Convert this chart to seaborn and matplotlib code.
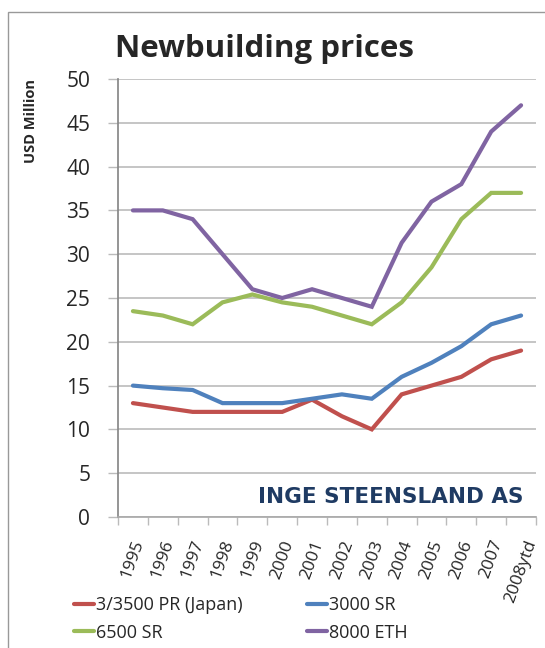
import numpy as np
import pandas as pd
import matplotlib
matplotlib.use("Agg")
import matplotlib.pyplot as plt
import seaborn as sns
from matplotlib.patches import Rectangle
from matplotlib.lines import Line2D

# values (USD million)
years = ["1995", "1996", "1997", "1998", "1999", "2000", "2001",
         "2002", "2003", "2004", "2005", "2006", "2007", "2008ytd"]
pr_japan = [13, 12.5, 12, 12, 12, 12, 13.4, 11.5, 10, 14, 15, 16, 18, 19]
sr_3000 = [15, 14.7, 14.5, 13, 13, 13, 13.5, 14, 13.5, 16, 17.6, 19.5, 22, 23]
sr_6500 = [23.5, 23, 22, 24.5, 25.4, 24.5, 24, 23, 22, 24.5, 28.5, 34, 37, 37]
eth_8000 = [35, 35, 34, 30, 26, 25, 26, 25, 24, 31.3, 36, 38, 44, 47]

series_names = ["3/3500 PR (Japan)", "3000 SR", "6500 SR", "8000 ETH"]
colors = ["#C0504D", "#4F81BD", "#9BBB59", "#8064A2"]

rows = []
for name, vals in zip(series_names, [pr_japan, sr_3000, sr_6500, eth_8000]):
    for i, v in enumerate(vals):
        rows.append({"idx": i, "price": v, "series": name})
df = pd.DataFrame(rows)

sns.set_theme(style="white")
plt.rcParams['font.family'] = ['Open Sans', 'DejaVu Sans']

fig = plt.figure(figsize=(5.45, 6.48), dpi=100)
ax = fig.add_axes([118 / 545, 1 - 517 / 648, 418 / 545, 438 / 648])

sns.lineplot(data=df, x="idx", y="price", hue="series", hue_order=series_names,
             palette=colors, linewidth=3, legend=False, ax=ax)
for ln in ax.lines:
    ln.set_solid_joinstyle("miter")

ax.set_xlim(-0.5, len(years) - 0.5)
ax.set_ylim(0, 50)
ax.set_yticks(np.arange(0, 51, 5))
ax.tick_params(axis="y", labelsize=15, length=7, width=1, color="#BBBBBB",
               direction="out", left=True, pad=13)
ax.yaxis.grid(True, color="#BBBBBB", linewidth=1.2)
ax.set_axisbelow(True)

ax.set_xticks(range(len(years)))
ax.set_xticklabels(years, rotation=70, fontsize=12.5, ha="center")
ax.set_xticks(np.arange(-0.5, len(years), 1), minor=True)
ax.tick_params(axis="x", which="major", length=0, pad=15)
ax.tick_params(axis="x", which="minor", length=6, width=1, color="#BBBBBB",
               direction="out", bottom=True)

for s in ["top", "right"]:
    ax.spines[s].set_visible(False)
ax.spines["left"].set_color("#888888")
ax.spines["bottom"].set_color("#AAAAAA")
ax.set_xlabel("")
ax.set_ylabel("USD Million", fontsize=10.5, fontweight="bold")
ax.yaxis.set_label_coords(-0.192, 0.905)

ax.text(0.97, 0.045, "INGE STEENSLAND AS", transform=ax.transAxes,
        ha="right", va="center", fontsize=15.5, fontweight="bold",
        color="#1F3B63", family="DejaVu Sans")

fig.text(0.485, 0.925, "Newbuilding prices", ha="center", va="center",
         fontsize=22.5, fontweight="bold")

# outer chart frame
fig.patches.append(Rectangle((8 / 545, -0.1), 1.2, 1 - 12 / 648 + 0.1,
                             transform=fig.transFigure, fill=False,
                             edgecolor="#999999", linewidth=1))

# row-major legend order: red, blue / green, purple
order = [0, 2, 1, 3]
handles = [Line2D([0], [0], color=colors[i], linewidth=3) for i in order]
labels = [series_names[i] for i in order]
fig.legend(handles, labels, loc="center", ncol=2,
           bbox_to_anchor=(0.442, 0.045), frameon=False, fontsize=13,
           handlelength=1.1, handletextpad=0.1, columnspacing=3.6,
           labelspacing=0.55)

fig.savefig("out.png", dpi=100)
